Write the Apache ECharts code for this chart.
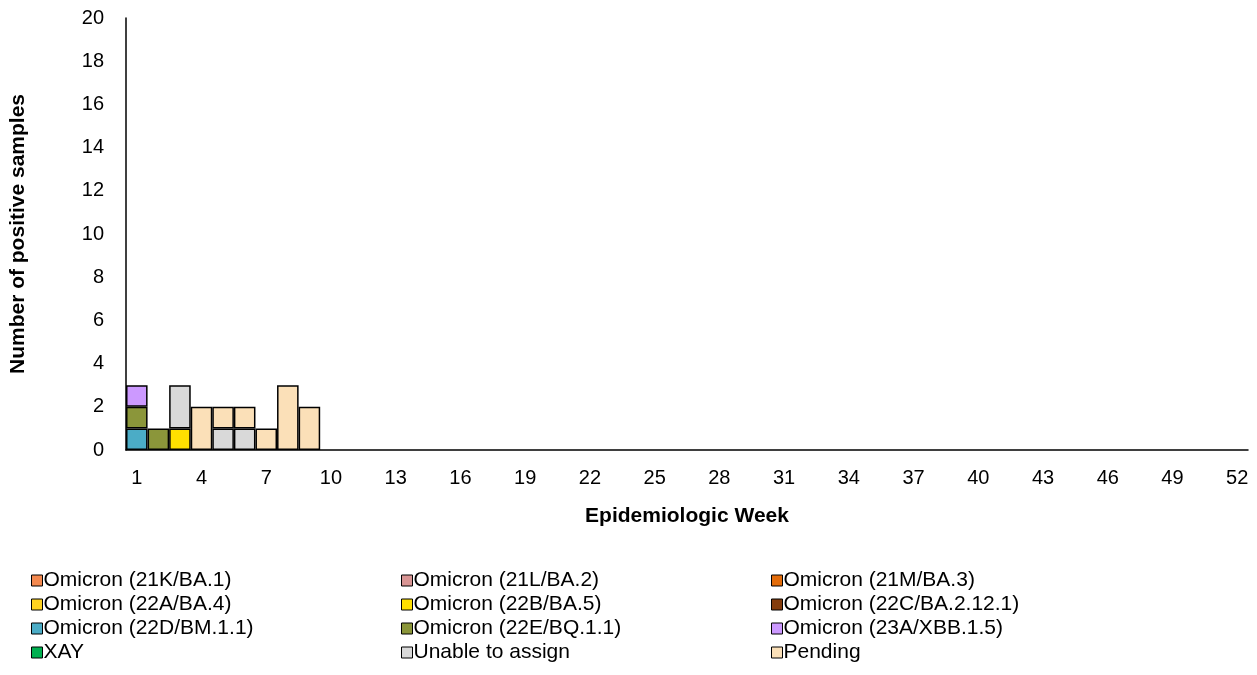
<!DOCTYPE html>
<html><head><meta charset="utf-8">
<script src="https://cdn.jsdelivr.net/npm/echarts@6/dist/echarts.min.js"></script>
<style>html,body{margin:0;background:#fff}#main{width:1257px;height:675px}</style>
</head><body><div id="main"></div>
<script>
var weeks = [];
for (var w = 1; w <= 52; w++) weeks.push(String(w));

var names = ['Omicron (21K/BA.1)','Omicron (21L/BA.2)','Omicron (21M/BA.3)',
  'Omicron (22A/BA.4)','Omicron (22B/BA.5)','Omicron (22C/BA.2.12.1)',
  'Omicron (22D/BM.1.1)','Omicron (22E/BQ.1.1)','Omicron (23A/XBB.1.5)',
  'XAY','Unable to assign','Pending'];
var colors = ['#F4894F','#D99594','#E36C0A','#FFD320','#FFE000','#843C0C',
  '#4BACC6','#8B963A','#CC99FF','#00B050','#D9D9D9','#FBE0B8'];
// values per week 1..9 (rest zero)
var v22D = [1,0,0,0,0,0,0,0,0];
var v22E = [1,1,0,0,0,0,0,0,0];
var v23A = [1,0,0,0,0,0,0,0,0];
var v22B = [0,0,1,0,0,0,0,0,0];
var vUnable = [0,0,2,0,1,1,0,0,0];
var vPending = [0,0,0,2,1,1,1,3,2];
var dataMap = {
  'Omicron (22D/BM.1.1)': v22D, 'Omicron (22E/BQ.1.1)': v22E,
  'Omicron (23A/XBB.1.5)': v23A, 'Omicron (22B/BA.5)': v22B,
  'Unable to assign': vUnable, 'Pending': vPending
};
var series = names.map(function (n, i) {
  var src = dataMap[n] || [];
  var d = weeks.map(function (_, k) { return src[k] ? src[k] : null; });
  return { name: n, type: 'bar', stack: 'a', data: d, barCategoryGap: 0,
    itemStyle: { color: colors[i], borderColor: '#000', borderWidth: 1.5 } };
});
var legendBase = { orient: 'vertical', top: 565, itemWidth: 11, itemHeight: 11, itemGap: 3,
  icon: 'rect', textStyle: { fontFamily: 'Liberation Sans', fontSize: 21, color: '#000', padding: [0,0,0,-4] },
  itemStyle: { borderColor: '#000', borderWidth: 1 } };
function col(idx, left) {
  return Object.assign({}, legendBase, { left: left, data: idx.map(function (i) { return names[i]; }) });
}
var chart = echarts.init(document.getElementById('main'));
chart.setOption({
  animation: false,
  textStyle: { fontFamily: 'Liberation Sans' },
  grid: { left: 126, right: 9, top: 18, bottom: 225, containLabel: false },
  legend: [col([0,3,6,9], 26), col([1,4,7,10], 396), col([2,5,8,11], 766)],
  xAxis: { type: 'category', data: weeks, name: 'Epidemiologic Week', nameLocation: 'middle', nameGap: 56,
    nameTextStyle: { fontWeight: 'bold', fontSize: 21, color: '#000' },
    axisLine: { lineStyle: { color: '#000', width: 1.5 } }, axisTick: { show: false },
    axisLabel: { interval: 2, fontSize: 20, color: '#000', margin: 18 } },
  yAxis: { type: 'value', min: 0, max: 20, interval: 2, name: 'Number of positive samples',
    nameLocation: 'middle', nameGap: 97, nameTextStyle: { fontWeight: 'bold', fontSize: 21, color: '#000' },
    splitLine: { show: false }, axisLine: { show: true, lineStyle: { color: '#000', width: 1.5 } },
    axisLabel: { fontSize: 20, color: '#000', margin: 22 } },
  series: series
});
</script></body></html>
